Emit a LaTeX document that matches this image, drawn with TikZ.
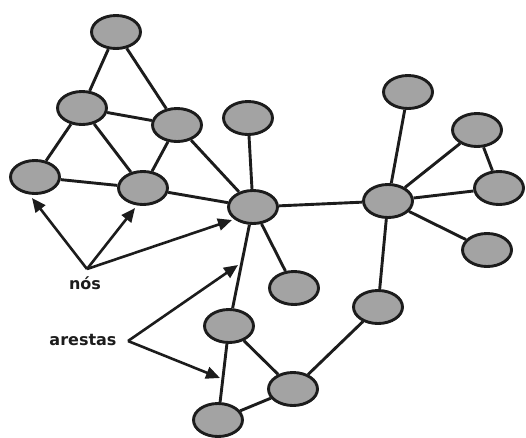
\documentclass[tikz,border=0pt]{standalone}
\usepackage{fontspec}
\setmainfont{DejaVu Sans}
\usetikzlibrary{shapes.geometric,arrows.meta}
\definecolor{nodefill}{RGB}{163,163,163}
\definecolor{ink}{RGB}{28,28,28}
\begin{document}
\begin{tikzpicture}[x=1pt,y=-1pt,
  vertex/.style={ellipse,draw=ink,fill=nodefill,line width=2.9pt,
    minimum width=49pt,minimum height=33pt,inner sep=0pt},
  edge/.style={draw=ink,line width=2.9pt},
  pointer/.style={draw=ink,line width=2.6pt,
    -{Triangle[length=14pt,width=12pt]}},
  caption/.style={font=\bfseries\fontsize{16}{18}\selectfont,text=ink,inner sep=0pt}]
\useasboundingbox (0,0) rectangle (526,437);

% vertices
\node[vertex] (top) at (116,32) {};
\node[vertex] (a)   at (82,108) {};
\node[vertex] (b)   at (177,125) {};
\node[vertex] (c)   at (35,177) {};
\node[vertex] (d)   at (143,188) {};
\node[vertex] (e)   at (248,118) {};
\node[vertex] (hubL) at (253,207) {};
\node[vertex] (f)   at (294,288) {};
\node[vertex] (g)   at (229,326) {};
\node[vertex] (h)   at (293,389) {};
\node[vertex] (i)   at (218,420) {};
\node[vertex] (j)   at (378,307) {};
\node[vertex] (hubR) at (388,201) {};
\node[vertex] (k)   at (408,92) {};
\node[vertex] (l)   at (477,130) {};
\node[vertex] (m)   at (499,188) {};
\node[vertex] (n)   at (487,250) {};

% edges
\draw[edge] (top) -- (a);
\draw[edge] (top) -- (b);
\draw[edge] (a) -- (b);
\draw[edge] (a) -- (c);
\draw[edge] (a) -- (d);
\draw[edge] (b) -- (d);
\draw[edge] (c) -- (d);
\draw[edge] (b) -- (hubL);
\draw[edge] (d) -- (hubL);
\draw[edge] (e) -- (hubL);
\draw[edge] (hubL) -- (f);
\draw[edge] (hubL) -- (g);
\draw[edge] (hubL) -- (hubR);
\draw[edge] (g) -- (i);
\draw[edge] (g) -- (h);
\draw[edge] (i) -- (h);
\draw[edge] (h) -- (j);
\draw[edge] (j) -- (hubR);
\draw[edge] (hubR) -- (k);
\draw[edge] (hubR) -- (l);
\draw[edge] (hubR) -- (m);
\draw[edge] (hubR) -- (n);
\draw[edge] (l) -- (m);

% labels and pointers
\node[caption] (nos) at (85,283) {nós};
\coordinate (nosO) at (87,269);
\draw[pointer] (nosO) -- (32,198);
\draw[pointer] (nosO) -- (135,208);
\draw[pointer] (nosO) -- (232,220);

\node[caption] (arestas) at (83,340) {arestas};
\coordinate (arO) at (128,341);
\coordinate (arT1) at (238,265);
\coordinate (arT2) at (220,378);
\draw[pointer] (arO) -- (arT1);
\draw[pointer] (arO) -- (arT2);
\end{tikzpicture}
\end{document}
